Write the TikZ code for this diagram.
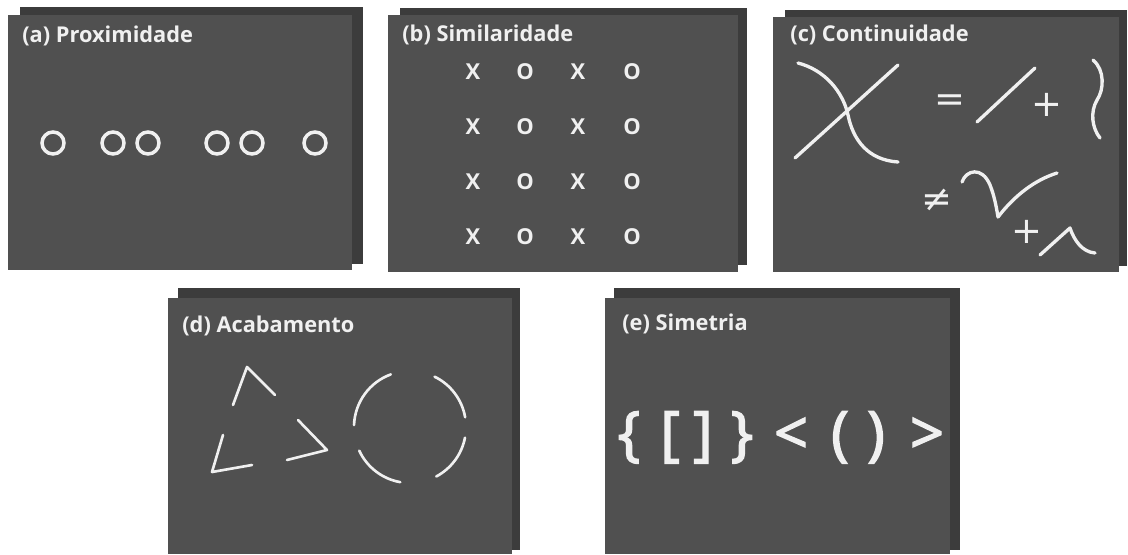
\documentclass[tikz,border=0pt]{standalone}
\usepackage{fontspec}
\setmainfont{Open Sans}
\newfontfamily\symfont{DejaVu Sans}
\newfontfamily\chalkfont{Open Sans}[FakeBold=2.4]
\definecolor{panelgray}{HTML}{505050}
\definecolor{shadowgray}{HTML}{3C3C3C}
\definecolor{chalk}{HTML}{F0F0F0}
\tikzset{
  panel/.style={fill=panelgray},
  backing/.style={fill=shadowgray},
  caption/.style={font=\fontsize{12.4}{14}\selectfont\bfseries,text=chalk,anchor=base west,inner sep=0pt},
  ring/.style={circle,draw=chalk,line width=2pt,minimum size=0.44cm,inner sep=0pt},
  letter/.style={font=\fontsize{12.5}{14}\selectfont\bfseries,text=chalk,inner sep=0pt},
  opsign/.style={font=\symfont\fontsize{21}{24}\selectfont,text=chalk,inner sep=0pt},
  bracket/.style={font=\chalkfont\fontsize{34}{36}\selectfont,text=chalk,anchor=base,inner sep=0pt},
  chalkline/.style={draw=chalk,line width=1.9pt,line cap=round,line join=round}
}
\begin{document}
\begin{tikzpicture}[x=0.02cm,y=-0.02cm]
  \fill[white] (0,0) rectangle (1128,554);
  \useasboundingbox (0,0) rectangle (1128,554);

  \fill[backing] (20,7) rectangle (363,264);
  \fill[panel] (8,15) rectangle (352,270);
  \node[caption] (capA) at (22,43) {(a) Proximidade};
  \node[ring] (ring1) at (53,143) {};
  \node[ring] (ring2) at (113,143) {};
  \node[ring] (ring3) at (148,143) {};
  \node[ring] (ring4) at (217,143) {};
  \node[ring] (ring5) at (252,143) {};
  \node[ring] (ring6) at (315,143) {};

  \fill[backing] (400,8) rectangle (747,265);
  \fill[panel] (388,15) rectangle (738,272);
  \node[caption] (capB) at (402,42) {(b) Similaridade};
  \foreach \ry [count=\r] in {72,127,182,237} {
    \node[letter] (simX\r a) at (473,\ry) {X};
    \node[letter] (simO\r a) at (525,\ry) {O};
    \node[letter] (simX\r b) at (578,\ry) {X};
    \node[letter] (simO\r b) at (632,\ry) {O};
  }

  \fill[backing] (785,10) rectangle (1127,266);
  \fill[panel] (773,17) rectangle (1119,272);
  \node[caption] (capC) at (790,42) {(c) Continuidade};
  \draw[chalkline] (795,158) -- (898,65);
  \draw[chalkline] (798,63) .. controls (825,70) and (843,92) .. (848,115) .. controls (853,140) and (868,160) .. (898,162);
  \node[opsign] (eqC) at (950,103) {=};
  \draw[chalkline] (977,122) -- (1035,68);
  \node[opsign] (plusC1) at (1047,105) {+};
  \draw[chalkline] (1093,60) .. controls (1105,70) and (1104,90) .. (1097,100) .. controls (1090,112) and (1092,128) .. (1100,138);
  \node[opsign] (neqC) at (937,200) {≠};
  \draw[chalkline] (962,182) .. controls (966,170) and (982,166) .. (990,185) .. controls (994,195) and (996,205) .. (998,217) .. controls (1015,195) and (1035,180) .. (1057,173);
  \node[opsign] (plusC2) at (1027,232) {+};
  \draw[chalkline] (1040,255) -- (1070,228) .. controls (1074,240) and (1082,252) .. (1095,253);

  \fill[backing] (178,288) rectangle (520,550);
  \fill[panel] (168,298) rectangle (512,554);
  \node[caption] (capD) at (182,332) {(d) Acabamento};
  \draw[chalkline,line width=1.5pt] (233,405) -- (247,367) -- (275,395);
  \draw[chalkline,line width=1.5pt] (298,420) -- (327,450) -- (287,460);
  \draw[chalkline,line width=1.5pt] (223,435) -- (212,472) -- (252,465);
  \coordinate (circD) at (410,427);
  \draw[chalkline,line width=1.5pt] (circD) ++(-110:56) arc[start angle=-110,end angle=-178,radius=56];
  \draw[chalkline,line width=1.5pt] (circD) ++(-10:56) arc[start angle=-10,end angle=-64,radius=56];
  \draw[chalkline,line width=1.5pt] (circD) ++(-205:56) arc[start angle=-205,end angle=-260,radius=56];
  \draw[chalkline,line width=1.5pt] (circD) ++(-298:56) arc[start angle=-298,end angle=-349,radius=56];

  \fill[backing] (614,288) rectangle (960,550);
  \fill[panel] (605,298) rectangle (950,554);
  \node[caption] (capE) at (622,330) {(e) Simetria};
  \node[bracket] (braceL) at (629,454) {\{};
  \node[bracket] (brackL) at (670,454) {[};
  \node[bracket] (brackR) at (703,454) {]};
  \node[bracket] (braceR) at (742,454) {\}};
  \node[bracket] (angL) at (791,454) {<};
  \node[bracket] (parL) at (840,454) {(};
  \node[bracket] (parR) at (876,454) {)};
  \node[bracket] (angR) at (927,454) {>};
\end{tikzpicture}
\end{document}
